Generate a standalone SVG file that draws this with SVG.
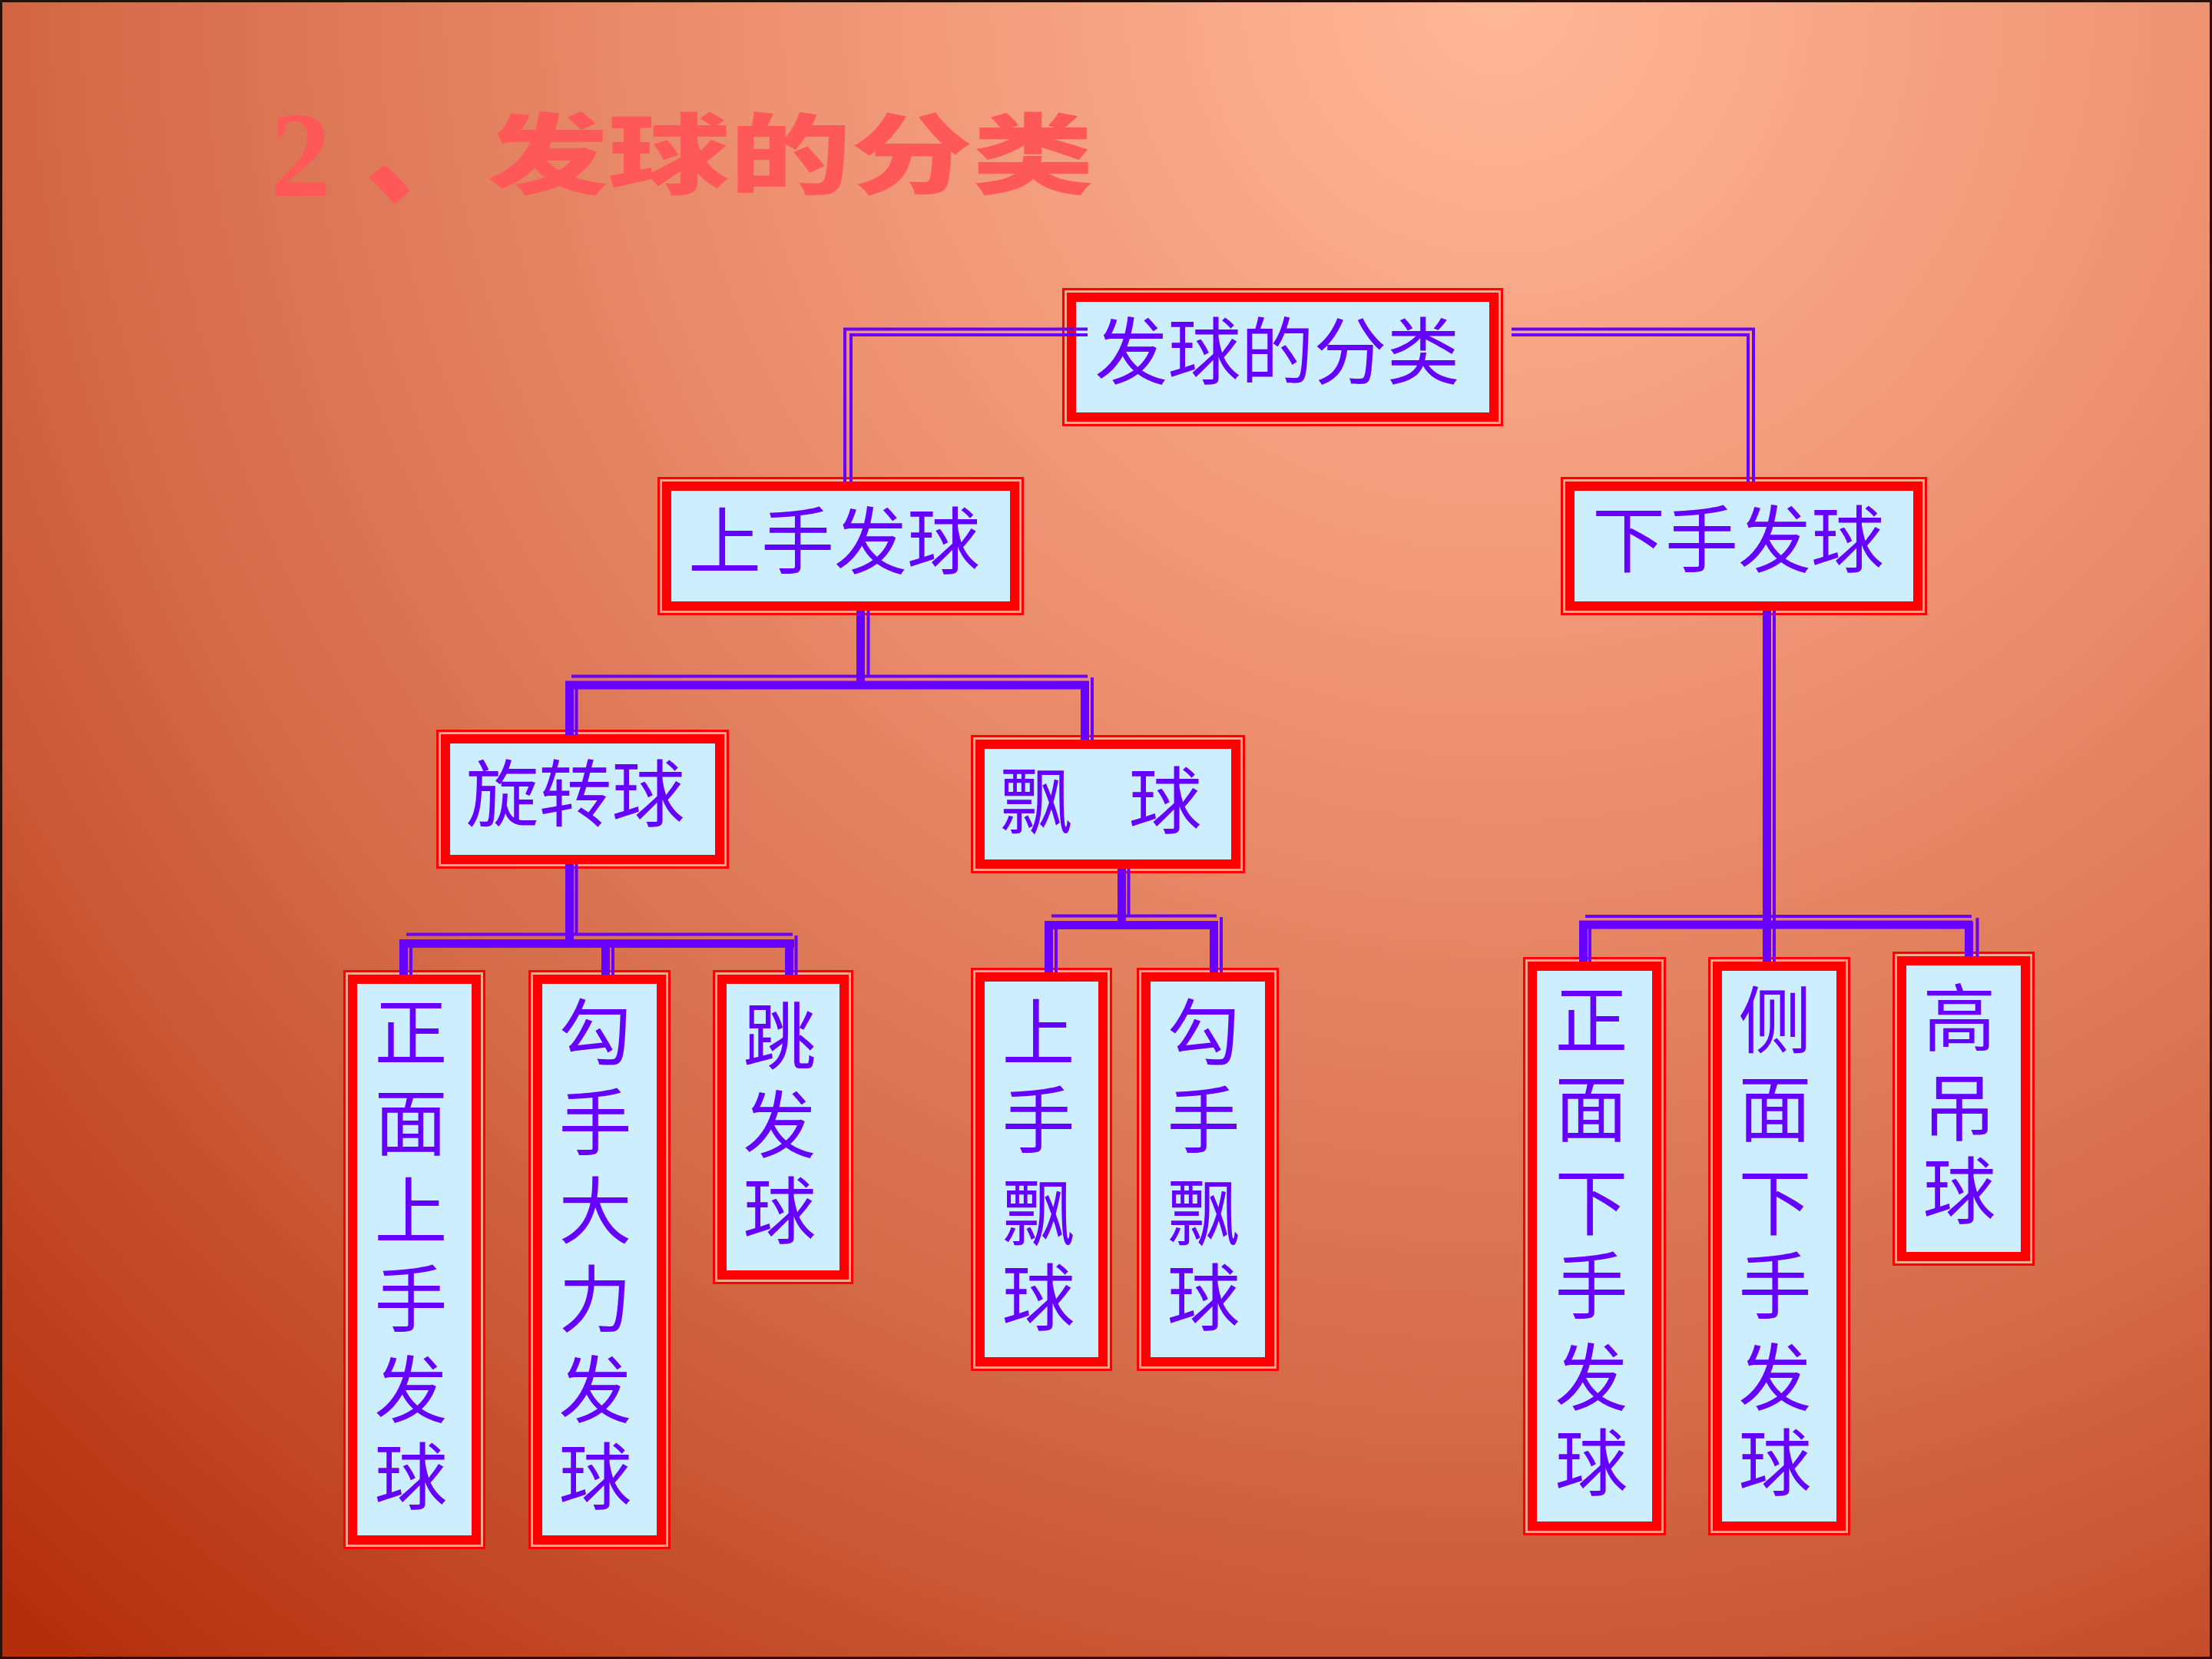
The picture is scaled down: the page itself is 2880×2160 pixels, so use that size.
<svg xmlns="http://www.w3.org/2000/svg" width="2880" height="2160" viewBox="0 0 2880 2160">
<defs>
<radialGradient id="bg" gradientUnits="userSpaceOnUse" cx="1950" cy="0" r="2850">
<stop offset="0" stop-color="#FFB898"/>
<stop offset="0.33" stop-color="#EE9272"/>
<stop offset="0.65" stop-color="#D46A48"/>
<stop offset="1" stop-color="#B42E0C"/>
</radialGradient>
<style>
.o{fill:#F6A68E;stroke:#FF0000;stroke-width:3}
.i{fill:#CCEEFF;stroke:#FF0000;stroke-width:12}
.t{font-family:"Noto Sans CJK SC","Noto Sans CJK TC",sans-serif;font-size:95px;fill:#6600FF;text-anchor:middle}
.thk{stroke:#6600FF;stroke-width:11;fill:none}
.thn{stroke:#6600FF;stroke-width:4;fill:none}
.ttl{fill:#FF5858}
</style>
</defs>
<rect x="0" y="0" width="2880" height="2160" fill="url(#bg)"/>
<rect x="1.5" y="1.5" width="2877" height="2157" fill="none" stroke="#2A1008" stroke-width="3"/>

<g id="title" class="ttl">
<text x="352" y="255" font-family="'Liberation Serif',serif" font-weight="bold" font-size="158">2</text>
<text x="475" y="254" font-family="'Noto Sans CJK SC',sans-serif" font-weight="900" font-size="158">、</text>
<text transform="translate(0,243) scale(1,0.72)" x="634" y="0" font-family="'Noto Sans CJK SC',sans-serif" font-weight="900" font-size="158">发球的分类</text>
</g>

<g id="n-root"><rect class="o" x="1384.5" y="376.5" width="571" height="177"/><rect class="i" x="1395" y="387" width="550" height="156"/><text class="t" x="1663" y="493">发球的分类</text></g>
<g id="n-shangshou"><rect class="o" x="857.5" y="622.5" width="474" height="177"/><rect class="i" x="868" y="633" width="453" height="156"/><text class="t" x="1086" y="740">上手发球</text></g>
<g id="n-xiashou"><rect class="o" x="2033.5" y="622.5" width="474" height="177"/><rect class="i" x="2044" y="633" width="453" height="156"/><text class="t" x="2263" y="738">下手发球</text></g>
<g id="n-xuanzhuan"><rect class="o" x="569.5" y="951.5" width="378" height="178"/><rect class="i" x="580" y="962" width="357" height="157"/><text class="t" x="749" y="1069">旋转球</text></g>
<g id="n-piao"><rect class="o" x="1265.5" y="958.5" width="354" height="177"/><rect class="i" x="1276" y="969" width="333" height="156"/><text class="t" y="1078"><tspan x="1349">飘</tspan><tspan x="1517">球</tspan></text></g>

<g id="n-zmss"><rect class="o" x="448.5" y="1264.5" width="182" height="751"/><rect class="i" x="459" y="1275" width="161" height="730"/><text class="t"><tspan x="535" y="1380">正</tspan><tspan x="535" y="1497">面</tspan><tspan x="535" y="1612">上</tspan><tspan x="535" y="1727">手</tspan><tspan x="535" y="1845">发</tspan><tspan x="535" y="1958">球</tspan></text></g>
<g id="n-gsdl"><rect class="o" x="689.5" y="1264.5" width="182" height="751"/><rect class="i" x="700" y="1275" width="161" height="730"/><text class="t"><tspan x="775" y="1380">勾</tspan><tspan x="775" y="1497">手</tspan><tspan x="775" y="1612">大</tspan><tspan x="775" y="1727">力</tspan><tspan x="775" y="1845">发</tspan><tspan x="775" y="1958">球</tspan></text></g>
<g id="n-tiao"><rect class="o" x="929.5" y="1264.5" width="180" height="406"/><rect class="i" x="940" y="1275" width="159" height="385"/><text class="t"><tspan x="1015" y="1385">跳</tspan><tspan x="1015" y="1500">发</tspan><tspan x="1015" y="1612">球</tspan></text></g>
<g id="n-sspq"><rect class="o" x="1265.5" y="1261.5" width="181" height="522"/><rect class="i" x="1276" y="1272" width="160" height="501"/><text class="t"><tspan x="1352" y="1380">上</tspan><tspan x="1352" y="1494">手</tspan><tspan x="1352" y="1614">飘</tspan><tspan x="1352" y="1725">球</tspan></text></g>
<g id="n-gspq"><rect class="o" x="1481.5" y="1261.5" width="182" height="522"/><rect class="i" x="1492" y="1272" width="161" height="501"/><text class="t"><tspan x="1567" y="1380">勾</tspan><tspan x="1567" y="1494">手</tspan><tspan x="1567" y="1614">飘</tspan><tspan x="1567" y="1725">球</tspan></text></g>
<g id="n-zmxs"><rect class="o" x="1984.5" y="1247.5" width="183" height="750"/><rect class="i" x="1995" y="1258" width="162" height="729"/><text class="t"><tspan x="2072" y="1364">正</tspan><tspan x="2072" y="1479">面</tspan><tspan x="2072" y="1601">下</tspan><tspan x="2072" y="1710">手</tspan><tspan x="2072" y="1829">发</tspan><tspan x="2072" y="1940">球</tspan></text></g>
<g id="n-cmxs"><rect class="o" x="2225.5" y="1247.5" width="182" height="750"/><rect class="i" x="2236" y="1258" width="161" height="729"/><text class="t"><tspan x="2311" y="1364">侧</tspan><tspan x="2311" y="1479">面</tspan><tspan x="2311" y="1601">下</tspan><tspan x="2311" y="1710">手</tspan><tspan x="2311" y="1829">发</tspan><tspan x="2311" y="1940">球</tspan></text></g>
<g id="n-gaodiao"><rect class="o" x="2465.5" y="1240.5" width="182" height="406"/><rect class="i" x="2476" y="1251" width="161" height="385"/><text class="t"><tspan x="2551" y="1361">高</tspan><tspan x="2551" y="1478">吊</tspan><tspan x="2551" y="1586">球</tspan></text></g>

<g id="connectors">
<path class="thn" d="M1416,428.5 H1100 V627 M1416,436 H1108 V627"/>
<path class="thn" d="M1968,428.5 H2283 V627 M1968,436 H2276 V627"/>
<path class="thk" d="M1120.5,795 V892 M736,892 H1418 M741.5,887 V957 M1412.5,887 V963"/>
<path class="thn" d="M1130.5,795 V882 M744,880.5 H1416 M750.5,897 V957 M1422,882 V963"/>
<path class="thk" d="M741.5,1125 V1229 M520,1228.5 H1034 M525.5,1224 V1269 M788.5,1224 V1269 M1027.5,1224 V1269"/>
<path class="thn" d="M750.5,1125 V1216 M529,1216.5 H1032 M535,1233 V1269 M798,1233 V1269 M1036.5,1218 V1269"/>
<path class="thk" d="M1460.5,1131 V1205 M1360,1204.5 H1586 M1365.5,1200 V1266 M1580.5,1200 V1266"/>
<path class="thn" d="M1469.5,1131 V1192 M1369,1192.5 H1584 M1375,1209 V1266 M1590,1194 V1266"/>
<path class="thk" d="M2300.5,795 V1252 M2056,1204 H2568 M2061.5,1200 V1252 M2563.5,1200 V1245"/>
<path class="thn" d="M2310,795 V1252 M2064,1193 H2567 M2070,1208 V1252 M2574.5,1195 V1245"/>
</g>
</svg>
